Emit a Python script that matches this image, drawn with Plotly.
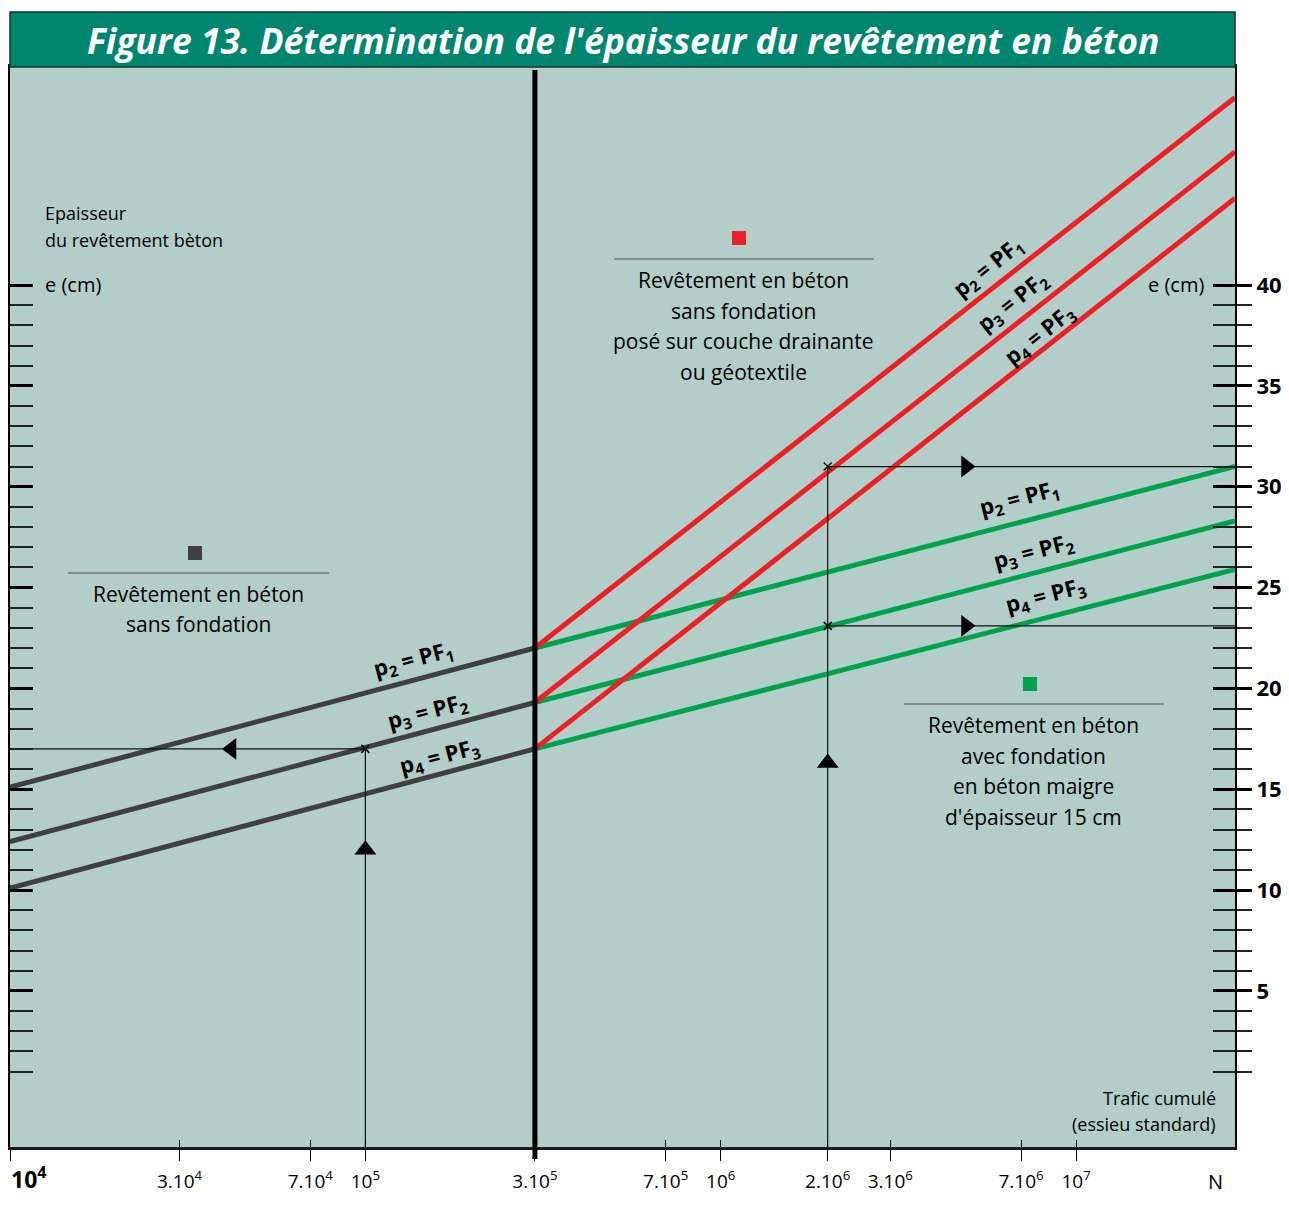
import math
import plotly.graph_objects as go

# ---------------- data ----------------
# cumulative traffic N (standard axle) at which the lines start, break and end
N_START = 1e4
N_BREAK = 3e5
N_END = 2.8e7

X_TICKS = [1e4, 3e4, 7e4, 1e5, 3e5, 7e5, 1e6, 2e6, 3e6, 7e6, 1e7]
X_LABELS = ["", "3.10<sup>4</sup>", "7.10<sup>4</sup>", "10<sup>5</sup>",
            "3.10<sup>5</sup>", "7.10<sup>5</sup>", "10<sup>6</sup>", "2.10<sup>6</sup>",
            "3.10<sup>6</sup>", "7.10<sup>6</sup>", "10<sup>7</sup>"]
X_FIRST_LABEL = "<b>10<sup>4</sup></b>"

Y_MAJOR = [5, 10, 15, 20, 25, 30, 35, 40]
Y_MINOR = [v for v in range(1, 40) if v % 5]

# thickness e (cm) at N_START and N_BREAK : revêtement sans fondation (gray)
GRAY_P2 = [15.1, 22.0]
GRAY_P3 = [12.4, 19.3]
GRAY_P4 = [10.1, 17.0]
# at N_BREAK and N_END : posé sur couche drainante (red)
RED_P2 = [22.0, 49.3]
RED_P3 = [19.3, 46.6]
RED_P4 = [17.0, 44.3]
# at N_BREAK and N_END : avec fondation béton maigre (green)
GREEN_P2 = [22.0, 31.0]
GREEN_P3 = [19.3, 28.3]
GREEN_P4 = [17.0, 25.9]

# reading examples
EX1_N = 1e5
EX1_E = 17.0
EX2_N = 2e6
EX2_E = [31.0, 23.1]
ARROW_UP_N = [1e5, 2e6]
ARROW_UP_E = [12.0, 16.3]
ARROW_LEFT_N = [4.2e4]
ARROW_LEFT_E = [17.0]
ARROW_RIGHT_N = [4.9e6, 4.9e6]
ARROW_RIGHT_E = [31.0, 23.1]

# ---------------- styling ----------------
OFF = 8                      # page body margin
W, H = 1289 - OFF, 1205 - OFF
ML, MT = 10 - OFF, 67 - OFF
MR, MB = 54, 58
PW, PH = W - ML - MR, H - MT - MB
Y_RANGE = [-2.74, 50.81]
X_RANGE = [math.log10(N_START), math.log10(N_END)]

BG = "#b3cec9"
TEAL = "#00866f"
GRAY = "#404040"
RED = "#ec2127"
GREEN = "#00a24f"
FONT = "Open Sans"


def px(x):  # page pixel -> paper
    return (x - OFF - ML) / PW


def py(y):
    return (MT + PH - (y - OFF)) / PH


fig = go.Figure()

LINE_W = 5
for e in [GRAY_P2, GRAY_P3, GRAY_P4]:
    fig.add_trace(go.Scatter(x=[N_START, N_BREAK], y=e, mode="lines",
                             line=dict(color=GRAY, width=LINE_W), hoverinfo="skip"))
for e, col in [(GREEN_P2, GREEN), (GREEN_P3, GREEN), (GREEN_P4, GREEN),
               (RED_P2, RED), (RED_P3, RED), (RED_P4, RED)]:
    fig.add_trace(go.Scatter(x=[N_BREAK, N_END], y=e, mode="lines",
                             line=dict(color=col, width=LINE_W), hoverinfo="skip"))

# reading example lines
thin = dict(color="#111111", width=1.2)
fig.add_trace(go.Scatter(x=[EX1_N, EX1_N, N_START], y=[Y_RANGE[0], EX1_E, EX1_E],
                         mode="lines", line=thin, hoverinfo="skip"))
fig.add_trace(go.Scatter(x=[EX2_N, EX2_N, N_END], y=[Y_RANGE[0], EX2_E[0], EX2_E[0]],
                         mode="lines", line=thin, hoverinfo="skip"))
fig.add_trace(go.Scatter(x=[EX2_N, N_END], y=[EX2_E[1], EX2_E[1]],
                         mode="lines", line=thin, hoverinfo="skip"))
# crosses
fig.add_trace(go.Scatter(x=[EX1_N, EX2_N, EX2_N], y=[EX1_E] + EX2_E, mode="markers",
                         marker=dict(symbol="x-thin", size=8, line=dict(color="#111", width=1.5)),
                         hoverinfo="skip"))
# arrow heads
fig.add_trace(go.Scatter(x=ARROW_UP_N, y=ARROW_UP_E, mode="markers",
                         marker=dict(symbol="triangle-up", size=19, color="black"), hoverinfo="skip"))
fig.add_trace(go.Scatter(x=ARROW_LEFT_N, y=ARROW_LEFT_E, mode="markers",
                         marker=dict(symbol="triangle-left", size=19, color="black"), hoverinfo="skip"))
fig.add_trace(go.Scatter(x=ARROW_RIGHT_N, y=ARROW_RIGHT_E, mode="markers",
                         marker=dict(symbol="triangle-right", size=19, color="black"), hoverinfo="skip"))

# dummy traces so that the overlay axes are drawn
for xa, ya in [("x2", "y"), ("x", "y2"), ("x", "y3"), ("x", "y4")]:
    fig.add_trace(go.Scatter(x=[N_BREAK], y=[20], xaxis=xa, yaxis=ya, mode="markers",
                             marker=dict(opacity=0), hoverinfo="skip", showlegend=False))

common_x = dict(type="log", range=X_RANGE, tickmode="array", tickvals=X_TICKS,
                showgrid=False, zeroline=False, tickcolor="black", tickwidth=1.2,
                fixedrange=True, automargin=False)
minor_common = dict(tickmode="array", tickvals=Y_MINOR, tickwidth=1.5, tickcolor="#222")
common_y = dict(range=Y_RANGE, tickmode="array", tickvals=Y_MAJOR, showgrid=False,
                zeroline=False, tickcolor="black", tickwidth=3, fixedrange=True,
                automargin=False)

fig.update_layout(
    width=W, height=H,
    margin=dict(l=ML, r=MR, t=MT, b=MB, pad=0, autoexpand=False),
    paper_bgcolor="white", plot_bgcolor=BG,
    showlegend=False,
    font=dict(family=FONT, color="black"),
    xaxis=dict(**common_x, ticktext=X_LABELS, ticks="outside", ticklen=11,
               showline=True, linecolor="#1a1a1a", linewidth=2.5, mirror=True,
               tickfont=dict(size=19, family=FONT, color="black"), ticklabelstandoff=4),
    xaxis2=dict(**common_x, overlaying="x", ticks="inside", ticklen=7,
                showticklabels=False, showline=False),
    yaxis=dict(**common_y, side="left", ticks="outside", ticklen=10, showticklabels=False,
               showline=True, linecolor="black", linewidth=2, mirror=True,
               minor=dict(**minor_common, ticks="outside", ticklen=10)),
    yaxis2=dict(**common_y, overlaying="y", side="left", ticks="inside", ticklen=23,
                showticklabels=False, showline=False,
                minor=dict(**minor_common, ticks="inside", ticklen=23)),
    yaxis3=dict(**common_y, overlaying="y", side="right", anchor="x", ticks="outside",
                ticklen=15, showticklabels=True, showline=True, linecolor="black", linewidth=2,
                tickfont=dict(size=22, family=FONT, color="black", weight="bold"),
                minor=dict(**minor_common, ticks="outside", ticklen=15)),
    yaxis4=dict(**common_y, overlaying="y", side="right", anchor="x", ticks="inside",
                ticklen=22, showticklabels=False, showline=False,
                minor=dict(**minor_common, ticks="inside", ticklen=22)),
)

shapes = []
# title bar
shapes.append(dict(type="rect", xref="paper", yref="paper", x0=0, x1=1, y0=1, y1=py(12),
                   fillcolor=TEAL, line=dict(color="#17332d", width=1.5), layer="above"))
# thick vertical line at the break
shapes.append(dict(type="line", xref="x", yref="paper", x0=N_BREAK, x1=N_BREAK,
                   y0=py(1159), y1=py(70), line=dict(color="black", width=5), layer="above"))
# legend squares and rules
for (cx, cy, col, lx0, lx1, ly) in [(195, 553, GRAY, 68, 329, 573),
                                     (739, 238, RED, 614, 874, 259),
                                     (1030, 684, GREEN, 904, 1164, 704)]:
    shapes.append(dict(type="rect", xref="paper", yref="paper", x0=px(cx - 7), x1=px(cx + 7),
                       y0=py(cy + 7), y1=py(cy - 7), fillcolor=col, line=dict(width=0)))
    shapes.append(dict(type="line", xref="paper", yref="paper", x0=px(lx0), x1=px(lx1),
                       y0=py(ly), y1=py(ly), line=dict(color="#555", width=1.2)))
fig.update_layout(shapes=shapes)

ann = []


def text(t, x, y, size=21, anchor="center", **kw):
    ann.append(dict(text=t, xref="paper", yref="paper", x=px(x), y=py(y), showarrow=False,
                    xanchor=anchor, yanchor="middle",
                    font=dict(size=size, family=FONT, color="black", **kw)))


ann.append(dict(text="Figure 13. Détermination de l'épaisseur du revêtement en béton",
                xref="paper", yref="paper", x=0.5, y=py(40), showarrow=False,
                xanchor="center", yanchor="middle",
                font=dict(size=35.5, family=FONT, color="white", weight="bold", style="italic")))

# first x tick label (at the left edge of the frame)
ann.append(dict(text=X_FIRST_LABEL, xref="paper", yref="paper", x=px(9), y=py(1178),
                showarrow=False, xanchor="left", yanchor="middle",
                font=dict(size=23, family=FONT, color="black")))

text("Epaisseur", 43, 213, 18, "left")
text("du revêtement bèton", 43, 240, 18, "left")
text("e (cm)", 43, 284, 20, "left")
text("e (cm)", 1206, 284, 20, "right")
for i, s in enumerate(["Revêtement en béton", "sans fondation"]):
    text(s, 198, 594 + 30 * i)
for i, s in enumerate(["Revêtement en béton", "sans fondation", "posé sur couche drainante", "ou géotextile"]):
    text(s, 743, 280 + 30.5 * i)
for i, s in enumerate(["Revêtement en béton", "avec fondation", "en béton maigre", "d'épaisseur 15 cm"]):
    text(s, 1033, 725 + 30.5 * i)
text("Trafic cumulé", 1218, 1098, 18, "right")
text("(essieu standard)", 1218, 1124, 18, "right")
text("N", 1215, 1181, 20)

LBL = ["p<sub>2</sub> = PF<sub>1</sub>", "p<sub>3</sub> = PF<sub>2</sub>", "p<sub>4</sub> = PF<sub>3</sub>"]
for (pos, ang) in [([(413, 660), (428, 712), (440, 757)], -14.7),
                   ([(988, 268), (1013, 302), (1040, 335)], -38.3),
                   ([(1019, 499), (1034, 552), (1046, 596)], -14.6)]:
    for (x, y), t in zip(pos, LBL):
        ann.append(dict(text=t, xref="paper", yref="paper", x=px(x), y=py(y), showarrow=False,
                        xanchor="center", yanchor="middle", textangle=ang,
                        font=dict(size=22, family=FONT, color="black", weight="bold")))

fig.update_layout(annotations=ann)

fig.write_html("out.html")
